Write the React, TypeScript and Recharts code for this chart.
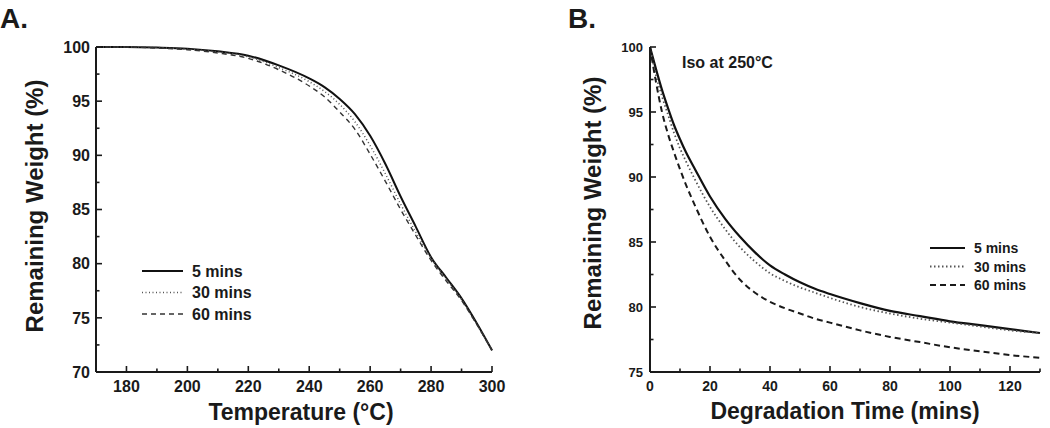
import { LineChart, Line, XAxis, YAxis } from 'recharts';

// Panel A: ramp at temperature
const tempA = [170, 180, 190, 200, 210, 220, 230, 240, 245, 250, 255, 260, 265, 270, 275, 280, 285, 290, 295, 300];
const a5 = [100, 100, 99.95, 99.85, 99.6, 99.2, 98.3, 97.1, 96.3, 95.2, 93.8, 91.8, 89.2, 86.2, 83.4, 80.6, 78.7, 76.8, 74.5, 72.0];
const a30 = [100, 100, 99.95, 99.8, 99.55, 99.1, 98.1, 96.8, 95.9, 94.7, 93.1, 90.9, 88.3, 85.5, 82.9, 80.5, 78.6, 76.7, 74.4, 72.0];
const a60 = [100, 100, 99.9, 99.75, 99.45, 98.95, 97.9, 96.4, 95.4, 94.0, 92.4, 90.1, 87.6, 85.0, 82.6, 80.3, 78.4, 76.6, 74.4, 72.0];

// Panel B: isothermal at 250 C
const timeB = [0, 2, 4, 6, 8, 10, 12, 15, 20, 25, 30, 35, 40, 45, 50, 55, 60, 70, 80, 90, 100, 110, 120, 130];
const b5 = [100, 98.3, 96.7, 95.3, 94.0, 92.9, 91.9, 90.6, 88.5, 86.8, 85.4, 84.2, 83.2, 82.5, 81.9, 81.4, 81.0, 80.3, 79.7, 79.3, 78.9, 78.6, 78.3, 78.0];
const b30 = [100, 97.8, 96.2, 94.8, 93.4, 92.2, 91.2, 89.8, 87.7, 86.0, 84.6, 83.5, 82.6, 82.0, 81.5, 81.1, 80.7, 80.0, 79.5, 79.1, 78.8, 78.5, 78.2, 78.0];
const b60 = [100, 97.3, 95.0, 93.3, 91.9, 90.6, 89.4, 87.8, 85.4, 83.6, 82.1, 81.1, 80.4, 79.9, 79.5, 79.1, 78.8, 78.2, 77.7, 77.3, 76.9, 76.6, 76.3, 76.1];

const seriesNames = ['5 mins', '30 mins', '60 mins'];

const ticksAX = [170, 180, 190, 200, 210, 220, 230, 240, 250, 260, 270, 280, 290, 300];
const ticksAY = [70, 72.5, 75, 77.5, 80, 82.5, 85, 87.5, 90, 92.5, 95, 97.5, 100];
const ticksBX = [0, 10, 20, 30, 40, 50, 60, 70, 80, 90, 100, 110, 120, 130];
const ticksBY = [75, 77.5, 80, 82.5, 85, 87.5, 90, 92.5, 95, 97.5, 100];

const dataA = tempA.map((t, i) => ({ t, s5: a5[i], s30: a30[i], s60: a60[i] }));
const dataB = timeB.map((t, i) => ({ t, s5: b5[i], s30: b30[i], s60: b60[i] }));

const FONT = '"Liberation Sans", Arial, sans-serif';
const INK = '#1a1a1a';

const styleA = [
  { stroke: '#111', width: 2, dash: undefined },
  { stroke: '#555', width: 1.5, dash: '1 2.5' },
  { stroke: '#333', width: 1.4, dash: '5 4' },
];
const styleB = [
  { stroke: '#111', width: 2.2, dash: undefined },
  { stroke: '#555', width: 1.8, dash: '1.5 2.5' },
  { stroke: '#1a1a1a', width: 2, dash: '6 4' },
];

function yTick(isMajor: (v: number) => boolean, fontSize: number, gap: number) {
  return (props: any) => {
    const { x, y, payload } = props;
    const ax = x + gap;
    const major = isMajor(payload.value);
    return (
      <g>
        <line x1={ax} x2={ax + (major ? 6 : 3.5)} y1={y} y2={y} stroke={INK} strokeWidth={1.6} />
        {major && (
          <text x={x} y={y} dy="0.36em" textAnchor="end" fontFamily={FONT} fontWeight="bold" fontSize={fontSize} fill={INK}>
            {payload.value}
          </text>
        )}
      </g>
    );
  };
}

function xTick(isMajor: (v: number) => boolean, fontSize: number, gap: number) {
  return (props: any) => {
    const { x, y, payload } = props;
    const ay = y - gap;
    const major = isMajor(payload.value);
    return (
      <g>
        <line x1={x} x2={x} y1={ay} y2={ay - (major ? 6 : 3.5)} stroke={INK} strokeWidth={1.6} />
        {major && (
          <text x={x} y={y} dy="0.75em" textAnchor="middle" fontFamily={FONT} fontWeight="bold" fontSize={fontSize} fill={INK}>
            {payload.value}
          </text>
        )}
      </g>
    );
  };
}

function Legend({ x, y, step, lineLen, fontSize, styles }: any) {
  return (
    <g>
      {seriesNames.map((name, i) => (
        <g key={name}>
          <line
            x1={x}
            x2={x + lineLen}
            y1={y + i * step}
            y2={y + i * step}
            stroke={styles[i].stroke}
            strokeWidth={styles[i].width}
            strokeDasharray={styles[i].dash}
          />
          <text x={x + lineLen + 9} y={y + i * step} dy="0.36em" fontFamily={FONT} fontWeight="bold" fontSize={fontSize} fill={INK}>
            {name}
          </text>
        </g>
      ))}
    </g>
  );
}

export default function App() {
  return (
    <div style={{ position: 'absolute', left: 0, top: 0, width: 1050, height: 428, background: '#fff' }}>
      <div style={{ position: 'absolute', left: 0, top: 0 }}>
        <LineChart width={520} height={428} data={dataA} margin={{ top: 47, right: 28, bottom: 26, left: 0 }}>
          <XAxis
            dataKey="t"
            type="number"
            domain={[170, 300]}
            ticks={ticksAX}
            interval={0}
            height={30}
            tickSize={0}
            tickMargin={8}
            tickLine={false}
            axisLine={{ stroke: INK, strokeWidth: 2 }}
            tick={xTick((v) => v % 20 === 0, 16, 8)}
          />
          <YAxis
            type="number"
            domain={[70, 100]}
            ticks={ticksAY}
            interval={0}
            width={96}
            tickSize={0}
            tickMargin={6}
            tickLine={false}
            axisLine={{ stroke: INK, strokeWidth: 2 }}
            tick={yTick((v) => v % 5 === 0, 16, 6)}
          />
          {['s5', 's30', 's60'].map((k, i) => (
            <Line
              key={k}
              dataKey={k}
              name={seriesNames[i]}
              type="monotone"
              dot={false}
              stroke={styleA[i].stroke}
              strokeWidth={styleA[i].width}
              strokeDasharray={styleA[i].dash}
              isAnimationActive={false}
            />
          ))}
        </LineChart>
      </div>
      <div style={{ position: 'absolute', left: 520, top: 0 }}>
        <LineChart width={530} height={428} data={dataB} margin={{ top: 47, right: 10, bottom: 26, left: 0 }}>
          <XAxis
            dataKey="t"
            type="number"
            domain={[0, 130]}
            ticks={ticksBX}
            interval={0}
            height={30}
            tickSize={0}
            tickMargin={8}
            tickLine={false}
            axisLine={{ stroke: INK, strokeWidth: 2 }}
            tick={xTick((v) => v % 20 === 0 && v <= 120, 14, 8)}
          />
          <YAxis
            type="number"
            domain={[75, 100]}
            ticks={ticksBY}
            interval={0}
            width={130}
            tickSize={0}
            tickMargin={7}
            tickLine={false}
            axisLine={{ stroke: INK, strokeWidth: 2 }}
            tick={yTick((v) => v % 5 === 0, 13, 7)}
          />
          {['s5', 's30', 's60'].map((k, i) => (
            <Line
              key={k}
              dataKey={k}
              name={seriesNames[i]}
              type="monotone"
              dot={false}
              stroke={styleB[i].stroke}
              strokeWidth={styleB[i].width}
              strokeDasharray={styleB[i].dash}
              isAnimationActive={false}
            />
          ))}
        </LineChart>
      </div>
      <svg width={1050} height={428} style={{ position: 'absolute', left: 0, top: 0, pointerEvents: 'none' }}>
        <text x={0} y={28} fontFamily={FONT} fontWeight="bold" fontSize={28} fill={INK}>A.</text>
        <text x={568} y={28} fontFamily={FONT} fontWeight="bold" fontSize={28} fill={INK}>B.</text>
        <text x={301} y={420} textAnchor="middle" fontFamily={FONT} fontWeight="bold" fontSize={23} fill={INK}>
          Temperature (°C)
        </text>
        <text x={845} y={419} textAnchor="middle" fontFamily={FONT} fontWeight="bold" fontSize={23} fill={INK}>
          Degradation Time (mins)
        </text>
        <text x={43} y={206} transform="rotate(-90 43 206)" textAnchor="middle" fontFamily={FONT} fontWeight="bold" fontSize={24} fill={INK}>
          Remaining Weight (%)
        </text>
        <text x={601} y={203} transform="rotate(-90 601 203)" textAnchor="middle" fontFamily={FONT} fontWeight="bold" fontSize={24} fill={INK}>
          Remaining Weight (%)
        </text>
        <text x={682} y={68} fontFamily={FONT} fontWeight="bold" fontSize={16} fill={INK}>
          Iso at 250°C
        </text>
        <Legend x={142} y={271} step={21.5} lineLen={41} fontSize={16} styles={styleA} />
        <Legend x={930} y={248} step={18.5} lineLen={35} fontSize={14} styles={styleB} />
      </svg>
    </div>
  );
}
